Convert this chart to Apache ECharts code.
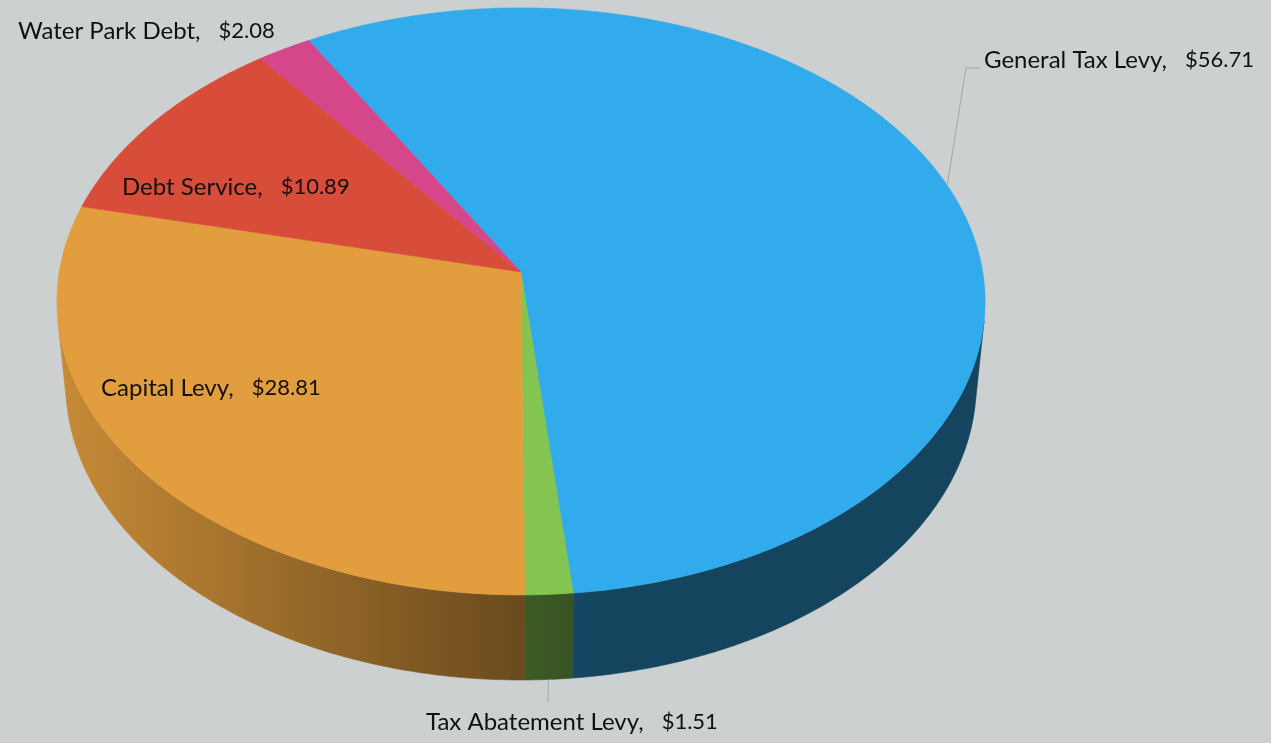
<!DOCTYPE html>
<html>
<head>
<meta charset="utf-8">
<script src="https://cdn.jsdelivr.net/npm/echarts@6/dist/echarts.min.js"></script>
<style>
  html, body { margin: 0; padding: 0; background: #ccd0d1; }
  #chart { width: 1271px; height: 743px; }
</style>
</head>
<body>
<div id="chart"></div>
<script>
// Levy breakdown (dollars per 100)
const categories = ['General Tax Levy', 'Tax Abatement Levy', 'Capital Levy', 'Debt Service', 'Water Park Debt'];
const values = [56.71, 1.51, 28.81, 10.89, 2.08];
const valueLabels = ['$56.71', '$1.51', '$28.81', '$10.89', '$2.08'];
const sliceColors = ['#31abeb', '#84c450', '#e29e3e', '#d84c3a', '#d6468a'];
const firstSliceAngle = 330; // degrees, clockwise from the far side

// Camera for the tilted disc
const CX = 521, CY = 272;
const FOCAL = 3583, DIST = 7.76, TILT = 39 * Math.PI / 180, DEPTH = 0.235;
const sinT = Math.sin(TILT), cosT = Math.cos(TILT);

function project(deg, r, h) {
  const a = deg * Math.PI / 180;
  const X = r * Math.sin(a), Z = r * Math.cos(a);
  const yc = h * cosT + Z * sinT;
  const zc = Z * cosT - h * sinT + DIST;
  return [CX + FOCAL * X / zc, CY - FOCAL * yc / zc];
}

// label placement (text anchors) and leader routing
const labelLayout = {
  'General Tax Levy':   { x: 984, y: 60, leader: [[966, 68], [979, 68]], leaderFrom: 'top' },
  'Tax Abatement Levy': { x: 426, y: 722, leader: [[548, 702]], leaderFrom: 'bottom' },
  'Capital Levy':       { x: 101, y: 388 },
  'Debt Service':       { x: 122, y: 187 },
  'Water Park Debt':    { x: 18,  y: 31 }
};

const total = values.reduce((s, v) => s + v, 0);
let acc = firstSliceAngle;
const sliceData = values.map((v, i) => {
  const start = acc;
  const end = acc + v / total * 360;
  acc = end;
  return { name: categories[i], value: [v, start, end, i] };
});

function shade(hex, f) {
  const n = parseInt(hex.slice(1), 16);
  const r = Math.round(((n >> 16) & 255) * f);
  const g = Math.round(((n >> 8) & 255) * f);
  const b = Math.round((n & 255) * f);
  return 'rgb(' + r + ',' + g + ',' + b + ')';
}

// side-wall light falls off from left to right
const wallLight = [[57, 0.88], [523, 0.47], [600, 0.40], [985, 0.40]];

function wallGradient(color) {
  const x0 = wallLight[0][0], x1 = wallLight[wallLight.length - 1][0];
  return new echarts.graphic.LinearGradient(x0, 0, x1, 0,
    wallLight.map(p => ({ offset: (p[0] - x0) / (x1 - x0), color: shade(color, p[1]) })), true);
}

// front-facing part of the cylinder wall
const visLimit = Math.acos(-1 / (DIST * cosT)) * 180 / Math.PI;

function norm(a) { return ((a % 360) + 360) % 360; }

function renderItem(params, api) {
  const i = api.value(3);
  const start = api.value(1), end = api.value(2);
  const color = sliceColors[i];
  const children = [];

  // wall: intersect slice span with the visible band
  const s = norm(start), e = s + (end - start);
  const spans = [[s, e], [s - 360, e - 360], [s + 360, e + 360]];
  spans.forEach(sp => {
    const a0 = Math.max(sp[0], visLimit), a1 = Math.min(sp[1], 360 - visLimit);
    if (a1 > a0) {
      const pts = [];
      const n = Math.max(2, Math.ceil((a1 - a0) / 0.5));
      for (let k = 0; k <= n; k++) pts.push(project(a0 + (a1 - a0) * k / n, 1, 0));
      for (let k = n; k >= 0; k--) pts.push(project(a0 + (a1 - a0) * k / n, 1, -DEPTH));
      children.push({
        type: 'polygon', z2: 1,
        shape: { points: pts },
        style: { fill: wallGradient(color), stroke: wallGradient(color), lineWidth: 0.6 }
      });
    }
  });

  // top face
  const top = [project(0, 0, 0)];
  const n = Math.max(2, Math.ceil((end - start) / 0.5));
  for (let k = 0; k <= n; k++) top.push(project(start + (end - start) * k / n, 1, 0));
  children.push({
    type: 'polygon', z2: 5,
    shape: { points: top },
    style: { fill: color, stroke: color, lineWidth: 0.6 }
  });

  // label
  const name = categories[i];
  const lay = labelLayout[name];
  const mid = (start + end) / 2;
  if (lay.leader) {
    const from = project(mid, 1, lay.leaderFrom === 'bottom' ? -DEPTH : 0);
    children.push({
      type: 'polyline', z2: 8,
      shape: { points: [from].concat(lay.leader) },
      style: { stroke: '#a3a5a6', lineWidth: 1, fill: null }
    });
  }
  children.push({
    type: 'text', z2: 10,
    style: {
      x: lay.x, y: lay.y,
      text: '{n|' + name + ',}{v|' + valueLabels[i] + '}',
      verticalAlign: 'middle', align: 'left',
      rich: {
        n: { fontFamily: 'Lato', fontSize: 24, fill: '#111', letterSpacing: 0.55 },
        v: { fontFamily: 'Lato', fontSize: 22, fill: '#111', letterSpacing: 0.9, padding: [0, 0, 0, 18] }
      }
    }
  });

  return { type: 'group', children: children };
}

const chart = echarts.init(document.getElementById('chart'), null, { renderer: 'canvas' });
chart.setOption({
  backgroundColor: '#ccd0d1',
  animation: false,
  series: [{
    type: 'custom',
    coordinateSystem: 'none',
    renderItem: renderItem,
    data: sliceData
  }]
});
</script>
</body>
</html>
